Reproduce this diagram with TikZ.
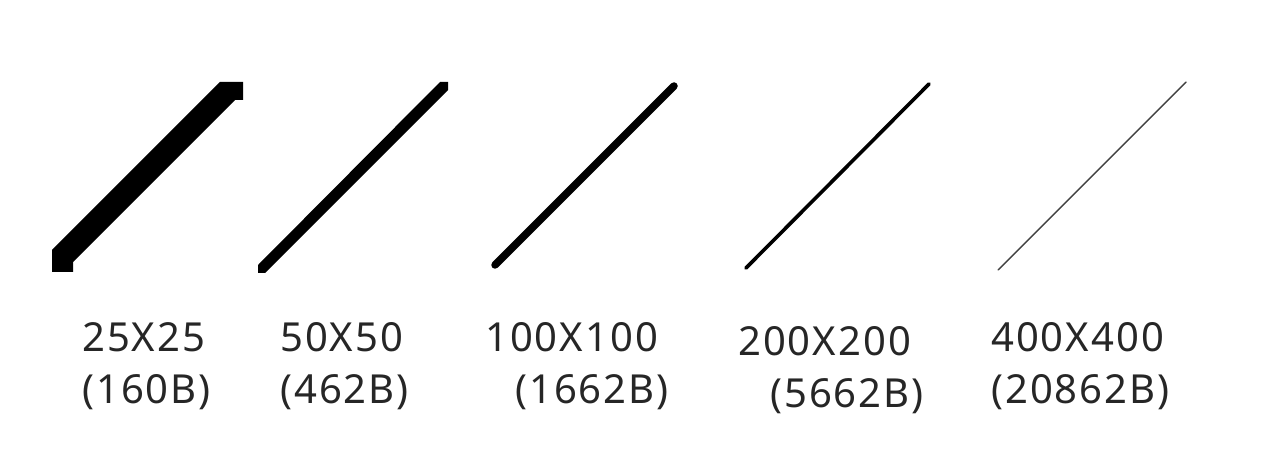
\documentclass[tikz,border=0pt]{standalone}
\usepackage{fontspec}
\setmainfont{Noto Sans}[LetterSpace=5]
\usepackage{tikz}

\begin{document}
\begin{tikzpicture}[x=1pt,y=-1pt,
  sizelbl/.style={anchor=base west,inner sep=0pt,font=\fontsize{40}{48}\selectfont,text=black!85},
  pixline/.style={fill=black},
  smoothline/.style={draw=black,line cap=round}]
  \useasboundingbox (0,0) rectangle (1282,462);
  % blocky lines from the small bitmaps
  \fill[pixline] (52,272) -- (52,250) -- (220,82) -- (243,82) -- (243,100)
    -- (235,100) -- (73,262) -- (73,272) -- cycle;
  \fill[pixline] (258,273) -- (258,265) -- (440,82) -- (448,82) -- (448,90)
    -- (265,273) -- cycle;
  % smooth lines
  \coordinate (c100a) at (495,265);
  \coordinate (c100b) at (674,86);
  \coordinate (c200a) at (746,268);
  \coordinate (c200b) at (929,84);
  \coordinate (c400a) at (998,270);
  \coordinate (c400b) at (1186,82);
  \draw[smoothline,line width=7.5pt] (c100a) -- (c100b);
  \draw[smoothline,line width=3.6pt] (c200a) -- (c200b);
  \draw[smoothline,line width=1.4pt,draw=black!75] (c400a) -- (c400b);
  % labels
  \foreach \n/\xa/\xb/\ya/\top/\bot in {
    25/82/82/351/25X25/(160B),
    50/280/280/351/50X50/(462B),
    100/485/515/351/100X100/(1662B),
    200/738/770/355/200X200/(5662B),
    400/991/991/351/400X400/(20862B)}
  {
    \node[sizelbl] (size-\n) at (\xa,\ya) {\top};
    \node[sizelbl] (bytes-\n) at (\xb,\ya+52) {\bot};
  }
\end{tikzpicture}
\end{document}
